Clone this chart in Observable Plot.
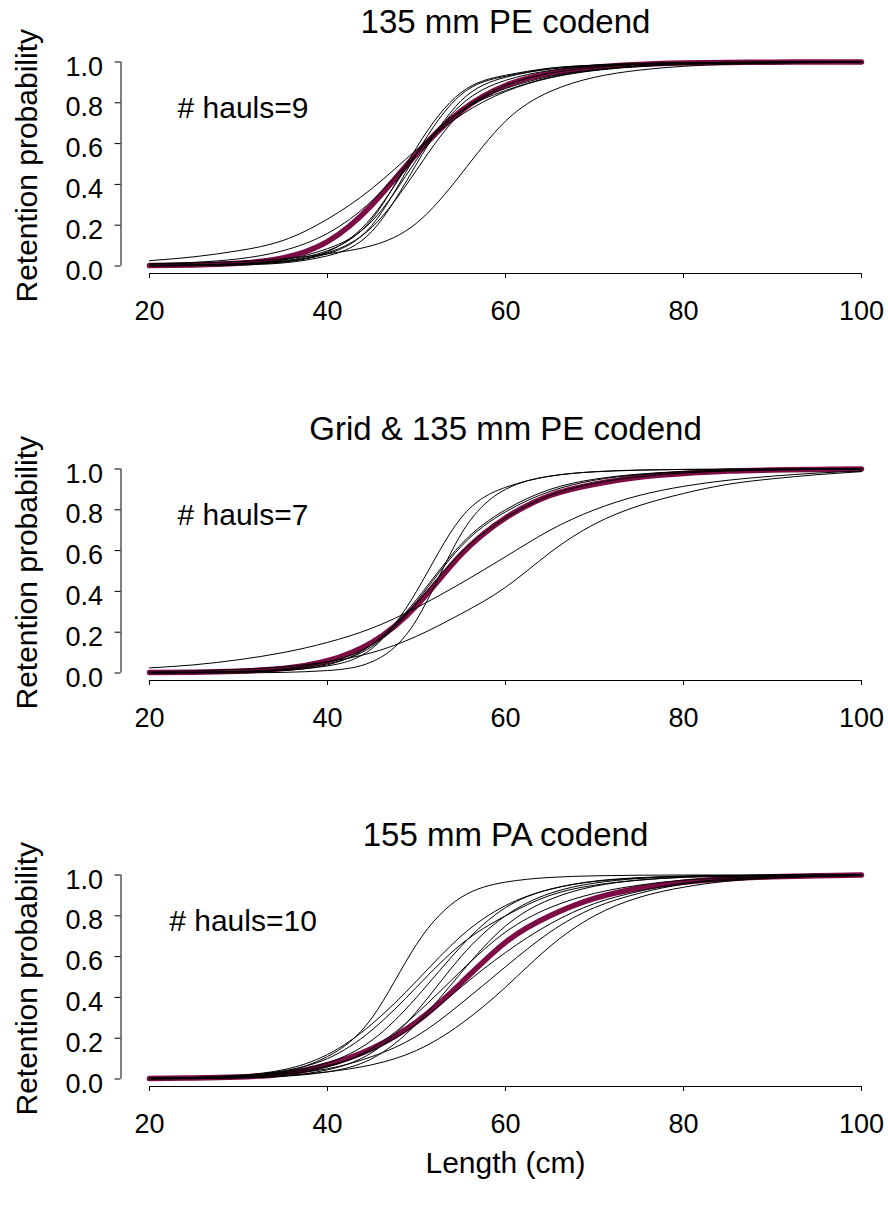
<!DOCTYPE html>
<html><head><meta charset="utf-8">
<script src="https://cdn.jsdelivr.net/npm/d3@7"></script>
<script src="https://cdn.jsdelivr.net/npm/@observablehq/plot@0.6"></script>
<style>
html,body{margin:0;padding:0;background:#fff}
#chart{width:888px;height:1209px;overflow:hidden}
#chart svg{display:block}
</style></head><body><div id="chart"></div>
<script>
// ---- data ----
const lengths = [20,25,30,35,40,45,50,55,60,65,70,75,80,85,90,95,100];
const xTicks = [20,40,60,80,100];
const yTicks = [0,0.2,0.4,0.6,0.8,1.0];
const panelTitles = ["135 mm PE codend","Grid & 135 mm PE codend","155 mm PA codend"];
const haulLabels = ["# hauls=9","# hauls=7","# hauls=10"];
const xTitle = "Length (cm)";
const yTitle = "Retention probability";

const pe135Mean = [0.002,0.005,0.013,0.04,0.12,0.3,0.55,0.76,0.885,0.945,0.974,0.988,0.995,0.998,0.999,1,1];
const pe135Hauls = [
  [0.009,0.014,0.022,0.035,0.06,0.1,0.21,0.45,0.71,0.855,0.925,0.96,0.979,0.989,0.994,0.997,0.999],
  [0.026,0.045,0.075,0.125,0.23,0.38,0.57,0.74,0.855,0.922,0.958,0.978,0.989,0.995,0.998,0.999,1],
  [0.01,0.018,0.035,0.075,0.16,0.32,0.55,0.76,0.885,0.945,0.973,0.987,0.994,0.997,0.999,1,1],
  [0.001,0.003,0.008,0.02,0.06,0.2,0.55,0.84,0.93,0.968,0.984,0.992,0.996,0.998,0.999,1,1],
  [0.002,0.004,0.01,0.025,0.075,0.23,0.58,0.85,0.935,0.97,0.985,0.993,0.997,0.999,1,1,1],
  [0.001,0.002,0.005,0.015,0.05,0.17,0.5,0.81,0.925,0.965,0.982,0.991,0.996,0.998,0.999,1,1],
  [0.003,0.006,0.012,0.03,0.085,0.22,0.52,0.79,0.91,0.958,0.979,0.99,0.995,0.998,0.999,1,1],
  [0.002,0.004,0.009,0.022,0.065,0.19,0.47,0.75,0.87,0.93,0.962,0.98,0.99,0.995,0.998,0.999,1],
  [0.001,0.003,0.007,0.02,0.07,0.24,0.55,0.76,0.86,0.925,0.96,0.98,0.99,0.995,0.998,0.999,1]
];

const gridMean = [0.002,0.004,0.009,0.022,0.06,0.15,0.33,0.58,0.76,0.87,0.925,0.96,0.978,0.99,0.995,0.998,1];
const gridHauls = [
  [0.005,0.01,0.018,0.03,0.055,0.1,0.18,0.29,0.42,0.59,0.73,0.82,0.88,0.925,0.952,0.972,0.987],
  [0.025,0.04,0.065,0.1,0.15,0.22,0.32,0.44,0.57,0.7,0.8,0.87,0.915,0.945,0.965,0.98,0.99],
  [0,0.0005,0.001,0.003,0.012,0.055,0.26,0.68,0.9,0.965,0.987,0.995,0.998,0.999,1,1,1],
  [0.001,0.002,0.005,0.013,0.035,0.12,0.4,0.76,0.91,0.965,0.986,0.994,0.998,0.999,1,1,1],
  [0.002,0.004,0.008,0.02,0.055,0.14,0.35,0.62,0.79,0.89,0.945,0.972,0.986,0.993,0.997,0.999,1],
  [0.001,0.003,0.006,0.015,0.045,0.13,0.34,0.59,0.76,0.87,0.93,0.962,0.98,0.99,0.995,0.998,1],
  [0.001,0.002,0.005,0.012,0.04,0.14,0.36,0.63,0.8,0.9,0.95,0.975,0.988,0.994,0.997,0.999,1]
];

const pa155Mean = [0.002,0.005,0.01,0.025,0.07,0.15,0.28,0.47,0.67,0.8,0.885,0.935,0.965,0.982,0.991,0.996,1];
const pa155Hauls = [
  [0.001,0.003,0.01,0.035,0.11,0.3,0.66,0.89,0.965,0.988,0.996,0.999,1,1,1,1,1],
  [0.003,0.007,0.016,0.04,0.1,0.24,0.45,0.66,0.8,0.9,0.95,0.975,0.988,0.994,0.997,0.999,1],
  [0.004,0.008,0.018,0.045,0.12,0.27,0.48,0.7,0.85,0.93,0.968,0.985,0.993,0.997,0.999,1,1],
  [0.003,0.006,0.014,0.035,0.08,0.19,0.4,0.65,0.84,0.93,0.97,0.987,0.995,0.998,0.999,1,1],
  [0.001,0.002,0.006,0.015,0.045,0.13,0.33,0.6,0.8,0.91,0.96,0.983,0.993,0.997,0.999,1,1],
  [0.001,0.002,0.005,0.013,0.035,0.1,0.27,0.52,0.75,0.88,0.945,0.975,0.99,0.995,0.998,0.999,1],
  [0.002,0.004,0.009,0.022,0.06,0.15,0.32,0.53,0.72,0.84,0.91,0.95,0.975,0.987,0.994,0.997,1],
  [0.003,0.006,0.013,0.03,0.065,0.14,0.27,0.45,0.62,0.76,0.86,0.92,0.96,0.98,0.99,0.995,0.998],
  [0.003,0.006,0.012,0.025,0.05,0.11,0.21,0.37,0.55,0.72,0.84,0.91,0.955,0.975,0.987,0.994,0.997],
  [0.002,0.004,0.008,0.016,0.035,0.07,0.14,0.27,0.45,0.65,0.8,0.89,0.94,0.97,0.985,0.993,0.997]
];

// ---- drawing ----
const meanColor = "#7d0b45";
const font = "'Liberation Sans', Arial, Helvetica, sans-serif";
const xMid = d3.mean(d3.extent(xTicks));

function panel(title, haulLabel, hauls, mean, height, withXTitle) {
  const rows = [];
  hauls.forEach((h, i) => h.forEach((p, j) => rows.push({id: i, length: lengths[j], p})));
  const meanRows = mean.map((p, j) => ({length: lengths[j], p}));
  const top = 61.5, plotH = 204, inset = 7.5;
  const marks = [
    Plot.ruleY([0], {x1: xTicks[0], x2: xTicks[xTicks.length - 1], dy: inset, stroke: "black", strokeWidth: 1}),
    Plot.ruleX([xTicks[0]], {y1: yTicks[0], y2: yTicks[yTicks.length - 1], dx: -28.5, stroke: "black", strokeWidth: 1}),
    Plot.axisX(xTicks, {tickSize: 5, tickPadding: 22, fontSize: 27, color: "black", label: null}),
    Plot.axisY(yTicks, {tickSize: 6, tickFormat: () => "", color: "black", label: null}),
    Plot.axisY(yTicks, {tickSize: 0, tickPadding: 18, dy: 5, fontSize: 27, color: "black", tickFormat: d3.format(".1f"), label: null}),
    Plot.line(meanRows, {x: "length", y: "p", stroke: meanColor, strokeWidth: 5.5, strokeLinecap: "round", curve: "natural"}),
    Plot.line(rows, {x: "length", y: "p", z: "id", stroke: "black", strokeWidth: 1, curve: "natural"}),
    Plot.text([title], {x: () => xMid, frameAnchor: "top", lineAnchor: "middle", dy: -39.5, fontSize: 33, fill: "black"}),
    Plot.text([haulLabel], {frameAnchor: "top-left", lineAnchor: "middle", textAnchor: "middle", dx: 122, dy: 46, fontSize: 30, fill: "black"}),
    Plot.text([yTitle], {frameAnchor: "left", textAnchor: "middle", lineAnchor: "middle", rotate: -90, dx: -93.5, dy: -2, fontSize: 30, fill: "black"})
  ];
  if (withXTitle) marks.push(Plot.text([xTitle], {x: () => xMid, frameAnchor: "bottom", lineAnchor: "middle", dy: 77, fontSize: 30, fill: "black"}));
  return Plot.plot({
    width: 888, height,
    marginTop: top, marginBottom: height - top - plotH - inset,
    marginLeft: 120.5, marginRight: 27,
    style: {fontFamily: font, background: "#fff", color: "black", overflow: "visible"},
    x: {domain: [xTicks[0], xTicks[xTicks.length - 1]], insetLeft: 28.5, label: null},
    y: {domain: [yTicks[0], yTicks[yTicks.length - 1]], insetBottom: inset, label: null},
    marks
  });
}

const root = document.getElementById("chart");
root.append(panel(panelTitles[0], haulLabels[0], pe135Hauls, pe135Mean, 407, false));
root.append(panel(panelTitles[1], haulLabels[1], gridHauls, gridMean, 406, false));
root.append(panel(panelTitles[2], haulLabels[2], pa155Hauls, pa155Mean, 396, true));
</script></body></html>
